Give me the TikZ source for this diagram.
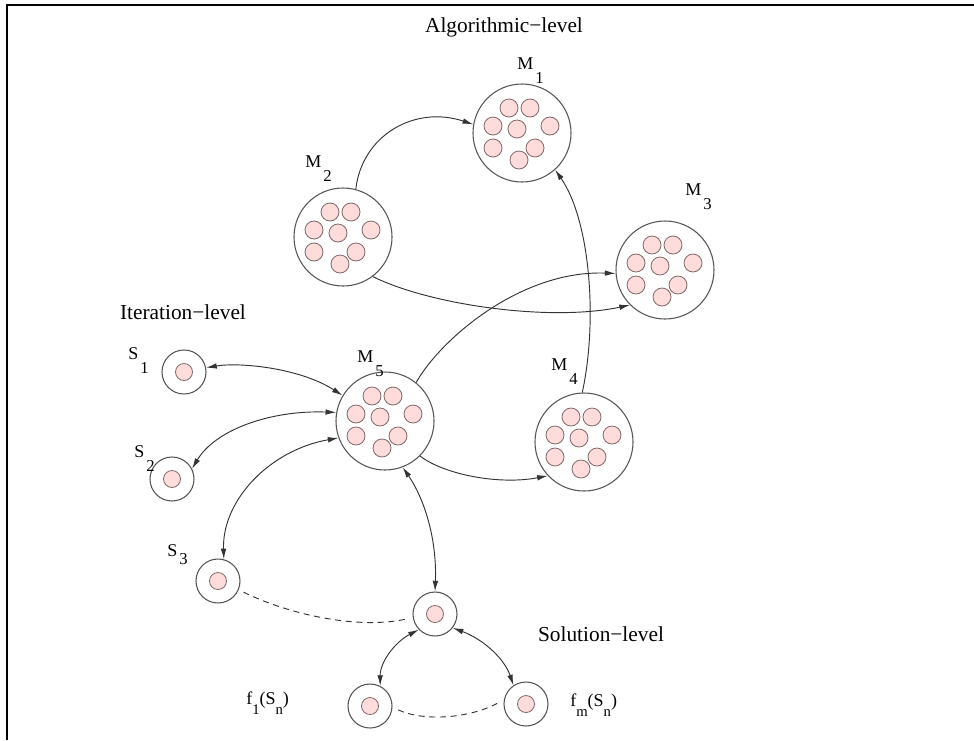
\documentclass[tikz,border=0pt]{standalone}
\usepackage{fontspec}
\setmainfont{Liberation Serif}
\usetikzlibrary{arrows.meta}
\definecolor{pinkf}{HTML}{FFDCDC}
\definecolor{pinkd}{HTML}{806868}
\definecolor{ringc}{HTML}{555555}
\definecolor{linec}{HTML}{333333}
\newcommand\sublab[2]{#1\kern1.5pt\raisebox{-10.5pt}{\fontsize{12.5}{12.5}\selectfont #2}}
\newcommand\lowsub[1]{\raisebox{-8pt}{\fontsize{11}{11}\selectfont #1}}
\begin{document}
\begin{tikzpicture}[x=0.75pt,y=-0.75pt,
  bigc/.style={circle,draw=ringc,line width=0.8pt,minimum size=73.5pt,inner sep=0pt},
  smallc/.style={circle,draw=ringc,line width=0.8pt,minimum size=33pt,inner sep=0pt},
  dot/.style={draw=pinkd,fill=pinkf,line width=0.6pt},
  conn/.style={draw=linec,line width=0.7pt},
  tipe/.style={-{Latex[length=8pt,width=4.2pt]}},
  tipb/.style={{Latex[length=8pt,width=4.2pt]}-{Latex[length=8pt,width=4.2pt]}},
  dsh/.style={draw=linec,line width=0.7pt,dash pattern=on 4.5pt off 3.5pt},
  title/.style={font=\fontsize{16}{18}\selectfont,inner sep=0pt},
  lbl/.style={font=\fontsize{13.5}{15}\selectfont,inner sep=0pt,anchor=base west}]
\useasboundingbox (0,0) rectangle (974,740);
% frame
\draw[line width=1.5pt] (7,740) -- (7,5) -- (974,5);
% big circles
\node[bigc] (M1) at (522,133) {};
\node[bigc] (M2) at (343,237) {};
\node[bigc] (M3) at (665,270) {};
\node[bigc] (M4) at (584,442) {};
\node[bigc] (M5) at (385,421) {};
\foreach \n in {M1,M2,M3,M4,M5}{
  \foreach \dx/\dy in {-13/-25, 8/-25, -29/-7, -5/-4, 28/-7, -29/15, 13/15, -3/27}
    \draw[dot] (\n) ++(\dx,\dy) circle[radius=9];
}
% small circles
\node[smallc] (S1) at (184,372) {};
\node[smallc] (S2) at (172,479) {};
\node[smallc] (S3) at (218,581) {};
\node[smallc] (Sn) at (435,614) {};
\node[smallc] (F1) at (370,706) {};
\node[smallc] (Fm) at (526,704) {};
\foreach \n in {S1,S2,S3,Sn,F1,Fm}
  \draw[dot] (\n) circle[radius=8.5];
% titles
\node[title] (Talg) at (504,27) {Algorithmic−level};
\node[title] (Tit) at (183,312) {Iteration−level};
\node[title] (Tsol) at (601,634) {Solution−level};
% labels
\node[lbl] (LM1) at (517,69) {\sublab{M}{1}};
\node[lbl] (LM2) at (305,167) {\sublab{M}{2}};
\node[lbl] (LM3) at (685,195) {\sublab{M}{3}};
\node[lbl] (LM4) at (551,370) {\sublab{M}{4}};
\node[lbl] (LM5) at (357,362) {\sublab{M}{5}};
\node[lbl] (LS1) at (128,359) {\sublab{S}{1}};
\node[lbl] (LS2) at (134,457) {\sublab{S}{2}};
\node[lbl] (LS3) at (167,556) {S\kern1.5pt\raisebox{-6pt}{\fontsize{12.5}{12.5}\selectfont 3}};
\node[lbl] (LF1) at (246,704) {f\lowsub{1}(S\lowsub{n})};
\node[lbl] (LFm) at (570,706) {f\lowsub{m}(S\lowsub{n})};
% connectors
\draw[conn,tipe] (M2.75) .. controls (362,135) and (415,105) .. (M1.170);
\draw[conn,tipe] (M2.-53) .. controls (430,305) and (550,322) .. (M3.225);
\draw[conn,tipe] (M5.51) .. controls (440,340) and (520,270) .. (M3.184);
\draw[conn,tipe] (M4.92) .. controls (598,320) and (590,220) .. (M1.-48);
\draw[conn,tipe] (M5.-45) .. controls (445,475) and (500,485) .. (M4.223);
\draw[conn,tipb] (S1.11) .. controls (240,362) and (300,368) .. (M5.149);
\draw[conn,tipb] (S2.27) .. controls (215,430) and (270,410) .. (M5.170);
\draw[conn,tipb] (S3.75) .. controls (222,500) and (270,450) .. (M5.200);
\draw[conn,tipb] (M5.-69) .. controls (425,500) and (437,540) .. (Sn.90);
\draw[conn,tipb] (Sn.224) .. controls (395,642) and (380,662) .. (F1.63);
\draw[conn,tipb] (Sn.-38) .. controls (485,640) and (505,660) .. (Fm.124);
\draw[dsh] ([shift={(5,2)}]S3.-24) .. controls (290,615) and (360,630) .. ([shift={(-5,0)}]Sn.192);
\draw[dsh] ([shift={(6,0)}]F1.-10) .. controls (425,722) and (470,718) .. ([shift={(-6,0)}]Fm.178);
\end{tikzpicture}
\end{document}
